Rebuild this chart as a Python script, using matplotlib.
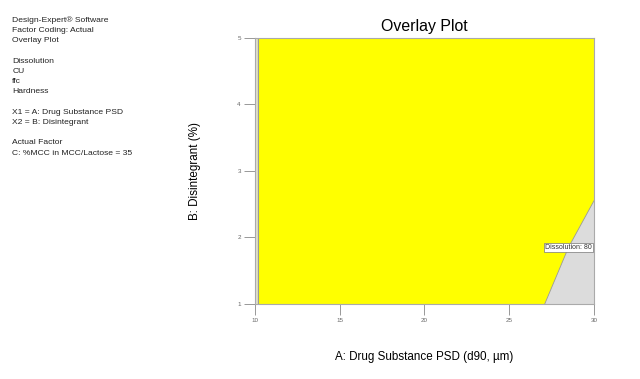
"""
overlay plot — Design-Expert style (PSD x Disintegrant, C = 35)
"""
import numpy as np
import matplotlib
matplotlib.use("Agg")
import matplotlib.pyplot as plt

plt.rcParams["font.family"] = ["Liberation Sans", "DejaVu Sans"]

# axis ranges / ticks
x_ticks = [10, 15, 20, 25, 30]
y_ticks = [1, 2, 3, 4, 5]

# Dissolution = 80 contour
diss_x = [27.1, 28.5, 30.0]
diss_y = [1.0, 1.85, 2.55]

# left constraint edge (thin infeasible strip near x = 10)
left_edge_x = 10.18

info_lines = [
    "Design-Expert® Software", "Factor Coding: Actual", "Overlay Plot", "",
    "Dissolution", "CU", "ffc", "Hardness", "",
    "X1 = A: Drug Substance PSD", "X2 = B: Disintegrant", "",
    "Actual Factor", "C: %MCC in MCC/Lactose = 35",
]

YELLOW = "#ffff00"
GREY = "#dcdcdc"
EDGE = "#9a9a9a"

fig = plt.figure(figsize=(6.4, 3.79), dpi=100)
ax = fig.add_axes([0.398, 0.198, 0.530, 0.702])
ax.set_xlim(x_ticks[0], x_ticks[-1])
ax.set_ylim(y_ticks[0], y_ticks[-1])

# whole region grey, then feasible (yellow) part on top
ax.add_patch(plt.Rectangle((x_ticks[0], y_ticks[0]), x_ticks[-1] - x_ticks[0],
                           y_ticks[-1] - y_ticks[0], color=GREY, zorder=0))
poly_x = [left_edge_x, left_edge_x] + [x_ticks[-1]] + diss_x[::-1]
poly_y = [y_ticks[0], y_ticks[-1]] + [y_ticks[-1]] + diss_y[::-1]
ax.fill(poly_x, poly_y, color=YELLOW, lw=0, zorder=1)
ax.plot([left_edge_x, left_edge_x], [y_ticks[0], y_ticks[-1]], color=EDGE, lw=0.8, zorder=2)
ax.plot(diss_x, diss_y, color=EDGE, lw=0.6, zorder=2)

ax.text(diss_x[1], diss_y[1], "Dissolution: 80", fontsize=5, ha="center", va="center",
        color="#333333", zorder=3,
        bbox=dict(boxstyle="square,pad=0.15", fc="white", ec="#777777", lw=0.5))

ax.set_xticks(x_ticks)
ax.set_yticks(y_ticks)
ax.tick_params(direction="out", length=8, width=0.6, color="#888888",
               labelsize=4.5, labelcolor="#666666", pad=2)
for s in ax.spines.values():
    s.set_color("#aaaaaa")
    s.set_linewidth(0.8)

ax.set_title("Overlay Plot", fontsize=11.4, pad=5)
ax.set_xlabel("A: Drug Substance PSD (d90, µm)", fontsize=8.4, labelpad=20)
ax.set_ylabel("B: Disintegrant (%)", fontsize=8.4, labelpad=26)

y0 = 0.947
for i, line in enumerate(info_lines):
    fig.text(0.019, y0 - i * 0.0270, line, fontsize=6.1, va="center", ha="left",
             color="#222222")

fig.savefig("out.png", dpi=100)
plt.close(fig)
